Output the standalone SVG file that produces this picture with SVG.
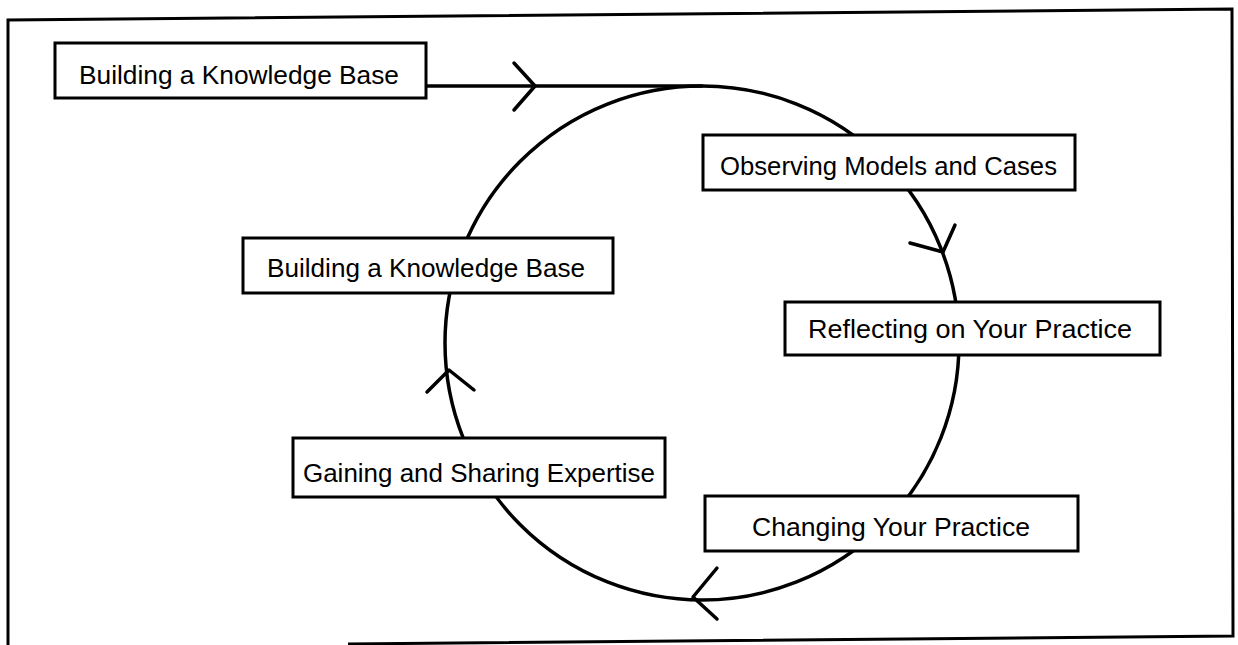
<svg xmlns="http://www.w3.org/2000/svg" width="1238" height="645" viewBox="0 0 1238 645">
<style>
.frame{fill:none;stroke:#000;stroke-width:3}
.box{fill:#fff;stroke:#000;stroke-width:3}
.lbl{font-family:"Liberation Sans",Arial,sans-serif;font-size:25px;fill:#000}
.conn{fill:none;stroke:#000;stroke-width:3.5;stroke-linecap:round;stroke-linejoin:round}
</style>
<rect width="1238" height="645" fill="#fff"/>
<g id="frame">
<path class="frame" d="M8,645 L8,20 L1232,9 L1233,636 L348,644"/>
</g>
<g id="connectors">
<path class="conn" d="M426,86 L702,86"/>
<circle class="conn" cx="702" cy="343" r="257"/>
<path class="conn" d="M514,63 L535,86 L514,110"/>
<path class="conn" d="M910,243 L943,252 L955,225"/>
<path class="conn" d="M717,568 L693,597 L717,619"/>
<path class="conn" d="M427,392 L449,370 L474,390"/>
</g>
<g id="node-kb-start">
<rect class="box" x="55" y="43" width="371" height="55"/>
<text class="lbl" x="79" y="84" textLength="320" lengthAdjust="spacingAndGlyphs">Building a Knowledge Base</text>
</g>
<g id="node-observing">
<rect class="box" x="703" y="135" width="372" height="55"/>
<text class="lbl" x="720" y="175" textLength="337" lengthAdjust="spacingAndGlyphs">Observing Models and Cases</text>
</g>
<g id="node-kb">
<rect class="box" x="243" y="238" width="370" height="55"/>
<text class="lbl" x="267" y="277" textLength="318" lengthAdjust="spacingAndGlyphs">Building a Knowledge Base</text>
</g>
<g id="node-reflecting">
<rect class="box" x="785" y="302" width="375" height="53"/>
<text class="lbl" x="808" y="338" textLength="324" lengthAdjust="spacingAndGlyphs">Reflecting on Your Practice</text>
</g>
<g id="node-gaining">
<rect class="box" x="293" y="438" width="372" height="59"/>
<text class="lbl" x="303" y="482" textLength="352" lengthAdjust="spacingAndGlyphs">Gaining and Sharing Expertise</text>
</g>
<g id="node-changing">
<rect class="box" x="705" y="496" width="373" height="55"/>
<text class="lbl" x="752" y="536" textLength="278" lengthAdjust="spacingAndGlyphs">Changing Your Practice</text>
</g>
</svg>
